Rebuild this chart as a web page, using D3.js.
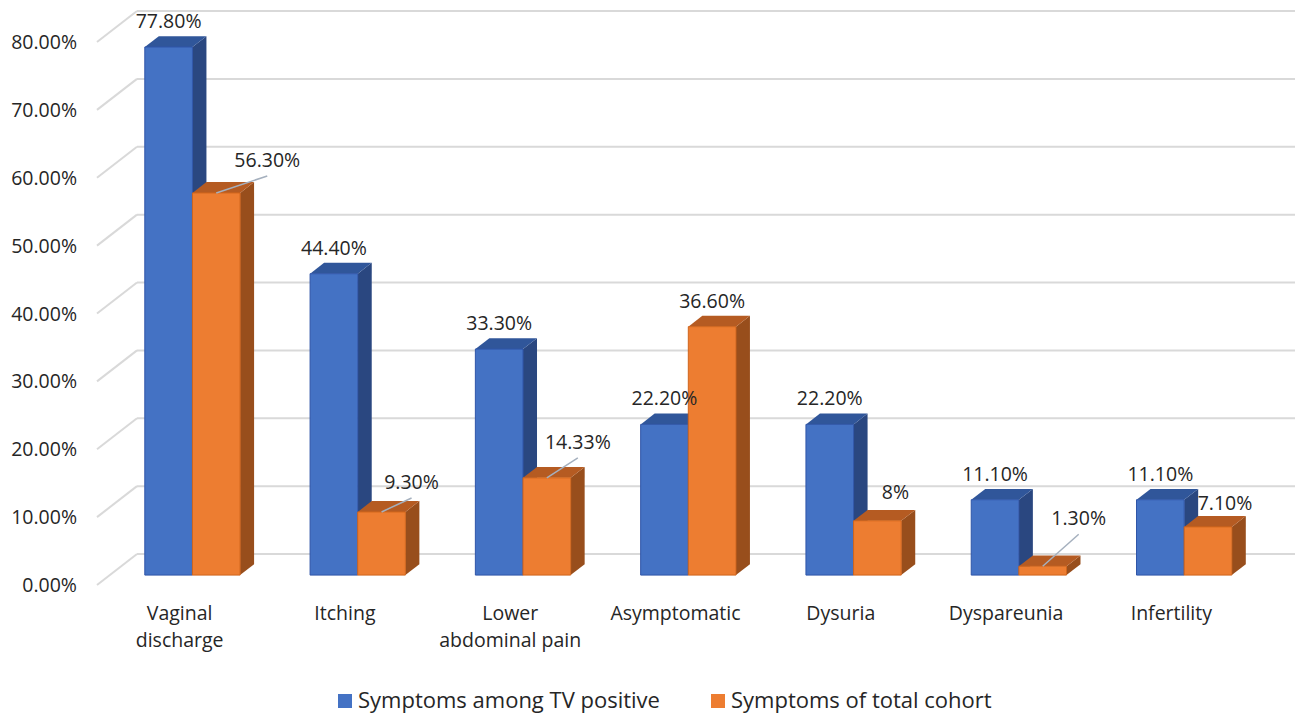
<!DOCTYPE html>
<html>
<head>
<meta charset="utf-8">
<script src="https://cdn.jsdelivr.net/npm/d3@7/dist/d3.min.js"></script>
<style>
  html, body { margin: 0; padding: 0; background: #fff; }
  svg { display: block; font-family: "Open Sans", "Noto Sans", sans-serif; }
</style>
</head>
<body>
<svg id="chart" width="1296" height="715"></svg>
<script>
// Symptom categories and the two series (percent)
const categories = ["Vaginal discharge", "Itching", "Lower abdominal pain", "Asymptomatic", "Dysuria", "Dyspareunia", "Infertility"];
const categoryLines = [["Vaginal", "discharge"], ["Itching"], ["Lower", "abdominal pain"], ["Asymptomatic"], ["Dysuria"], ["Dyspareunia"], ["Infertility"]];
const seriesNames = ["Symptoms among TV positive", "Symptoms of total cohort"];
const tvPositive = [77.8, 44.4, 33.3, 22.2, 22.2, 11.1, 11.1];
const totalCohort = [56.3, 9.3, 14.33, 36.6, 8, 1.3, 7.1];
const tvPositiveLabels = ["77.80%", "44.40%", "33.30%", "22.20%", "22.20%", "11.10%", "11.10%"];
const totalCohortLabels = ["56.30%", "9.30%", "14.33%", "36.60%", "8%", "1.30%", "7.10%"];
const yTicks = [0, 10, 20, 30, 40, 50, 60, 70, 80];

// Label placement for the second series: offset from the bar's front-top centre, and whether a leader line is drawn
const cohortLabelLayout = [
  { dx: 51, dy: -33, leader: true },
  { dx: 30, dy: -30, leader: true },
  { dx: 31, dy: -36, leader: true },
  { dx: 0,  dy: -26, leader: false },
  { dx: 18, dy: -29, leader: false },
  { dx: 36, dy: -48, leader: true },
  { dx: 17, dy: -24, leader: false }
];

const svg = d3.select("#chart");

// Oblique 3D projection: depth d in [0,1] shifts right and up
const depthX = 40, depthY = -31;
const barFront = 0.32, barBack = 0.67;

const x0 = d3.scaleBand().domain(categories).range([97, 1254]);
const x1 = d3.scaleBand().domain(seriesNames).range([35, x0.bandwidth() - 35]);
const y = d3.scaleLinear().domain([0, 80]).range([585, 42]);

const P = (x, v, d) => [x + depthX * d, y(v) + depthY * d];

const grid = svg.append("g");
// back wall gridlines
grid.selectAll("line.back").data(yTicks).join("line")
  .attr("x1", P(x0.range()[0], 0, 1)[0]).attr("x2", 1295)
  .attr("y1", v => P(0, v, 1)[1]).attr("y2", v => P(0, v, 1)[1])
  .attr("stroke", "#d9d9d9").attr("stroke-width", 2);
// side wall diagonals
grid.selectAll("line.side").data(yTicks).join("line")
  .attr("x1", x0.range()[0]).attr("y1", v => y(v))
  .attr("x2", P(x0.range()[0], 0, 1)[0]).attr("y2", v => P(0, v, 1)[1])
  .attr("stroke", "#d9d9d9").attr("stroke-width", 2);

// y axis labels
svg.append("g").selectAll("text").data(yTicks).join("text")
  .attr("x", 77).attr("y", v => y(v)).attr("dy", "0.36em")
  .attr("text-anchor", "end").attr("font-size", 19.5).attr("fill", "#262626")
  .text(v => d3.format(".2f")(v) + "%");

const palette = {
  [seriesNames[0]]: { front: "#4472C4", top: "#30569a", side: "#2a4780", edge: "#2f55a8" },
  [seriesNames[1]]: { front: "#ED7D31", top: "#b55b22", side: "#984e1c", edge: "#d0651c" }
};

function drawBar(g, x, w, v, c) {
  const fl = P(x, 0, barFront), fr = P(x + w, 0, barFront);
  const tl = P(x, v, barFront), tr = P(x + w, v, barFront);
  const btl = P(x, v, barBack), btr = P(x + w, v, barBack), bbr = P(x + w, 0, barBack);
  const poly = pts => pts.map(p => p.join(",")).join(" ");
  g.append("polygon").attr("points", poly([fr, tr, btr, bbr])).attr("fill", c.side);
  g.append("polygon").attr("points", poly([tl, tr, btr, btl])).attr("fill", c.top);
  g.append("polygon").attr("points", poly([fl, tl, tr, fr])).attr("fill", c.front)
    .attr("stroke", c.edge).attr("stroke-width", 1);
}

const bars = svg.append("g");
categories.forEach((cat, i) => {
  const bx = x0(cat);
  drawBar(bars, bx + x1(seriesNames[0]), x1.bandwidth(), tvPositive[i], palette[seriesNames[0]]);
  drawBar(bars, bx + x1(seriesNames[1]), x1.bandwidth(), totalCohort[i], palette[seriesNames[1]]);
});

// data labels
const labels = svg.append("g").attr("font-size", 19.5).attr("fill", "#262626");
categories.forEach((cat, i) => {
  const bx = x0(cat);
  const b = P(bx + x1(seriesNames[0]) + x1.bandwidth() / 2, tvPositive[i], barFront);
  labels.append("text").attr("x", b[0]).attr("y", b[1] - 26).attr("dy", "0.36em")
    .attr("text-anchor", "middle").text(tvPositiveLabels[i]);

  const o = P(bx + x1(seriesNames[1]) + x1.bandwidth() / 2, totalCohort[i], barFront);
  const lay = cohortLabelLayout[i];
  const lx = o[0] + lay.dx, ly = o[1] + lay.dy;
  if (lay.leader) {
    labels.append("line").attr("x1", o[0]).attr("y1", o[1])
      .attr("x2", lx).attr("y2", ly + 16)
      .attr("stroke", "#a5b0be").attr("stroke-width", 1.5);
  }
  labels.append("text").attr("x", lx).attr("y", ly).attr("dy", "0.36em")
    .attr("text-anchor", "middle").text(totalCohortLabels[i]);
});

// category labels
const cats = svg.append("g").attr("font-size", 19.5).attr("fill", "#262626").attr("text-anchor", "middle");
categories.forEach((cat, i) => {
  const t = cats.append("text").attr("x", x0(cat) + x0.bandwidth() / 2).attr("y", 613);
  categoryLines[i].forEach((line, k) => {
    t.append("tspan").attr("x", x0(cat) + x0.bandwidth() / 2).attr("dy", k === 0 ? "0.36em" : 27).text(line);
  });
});

// legend
const legend = svg.append("g").attr("font-size", 22).attr("fill", "#262626");
const legendX = [338, 711];
seriesNames.forEach((s, i) => {
  legend.append("rect").attr("x", legendX[i]).attr("y", 694).attr("width", 14).attr("height", 14)
    .attr("fill", palette[s].front);
  legend.append("text").attr("x", legendX[i] + 20).attr("y", 700).attr("dy", "0.36em").text(s);
});
</script>
</body>
</html>
